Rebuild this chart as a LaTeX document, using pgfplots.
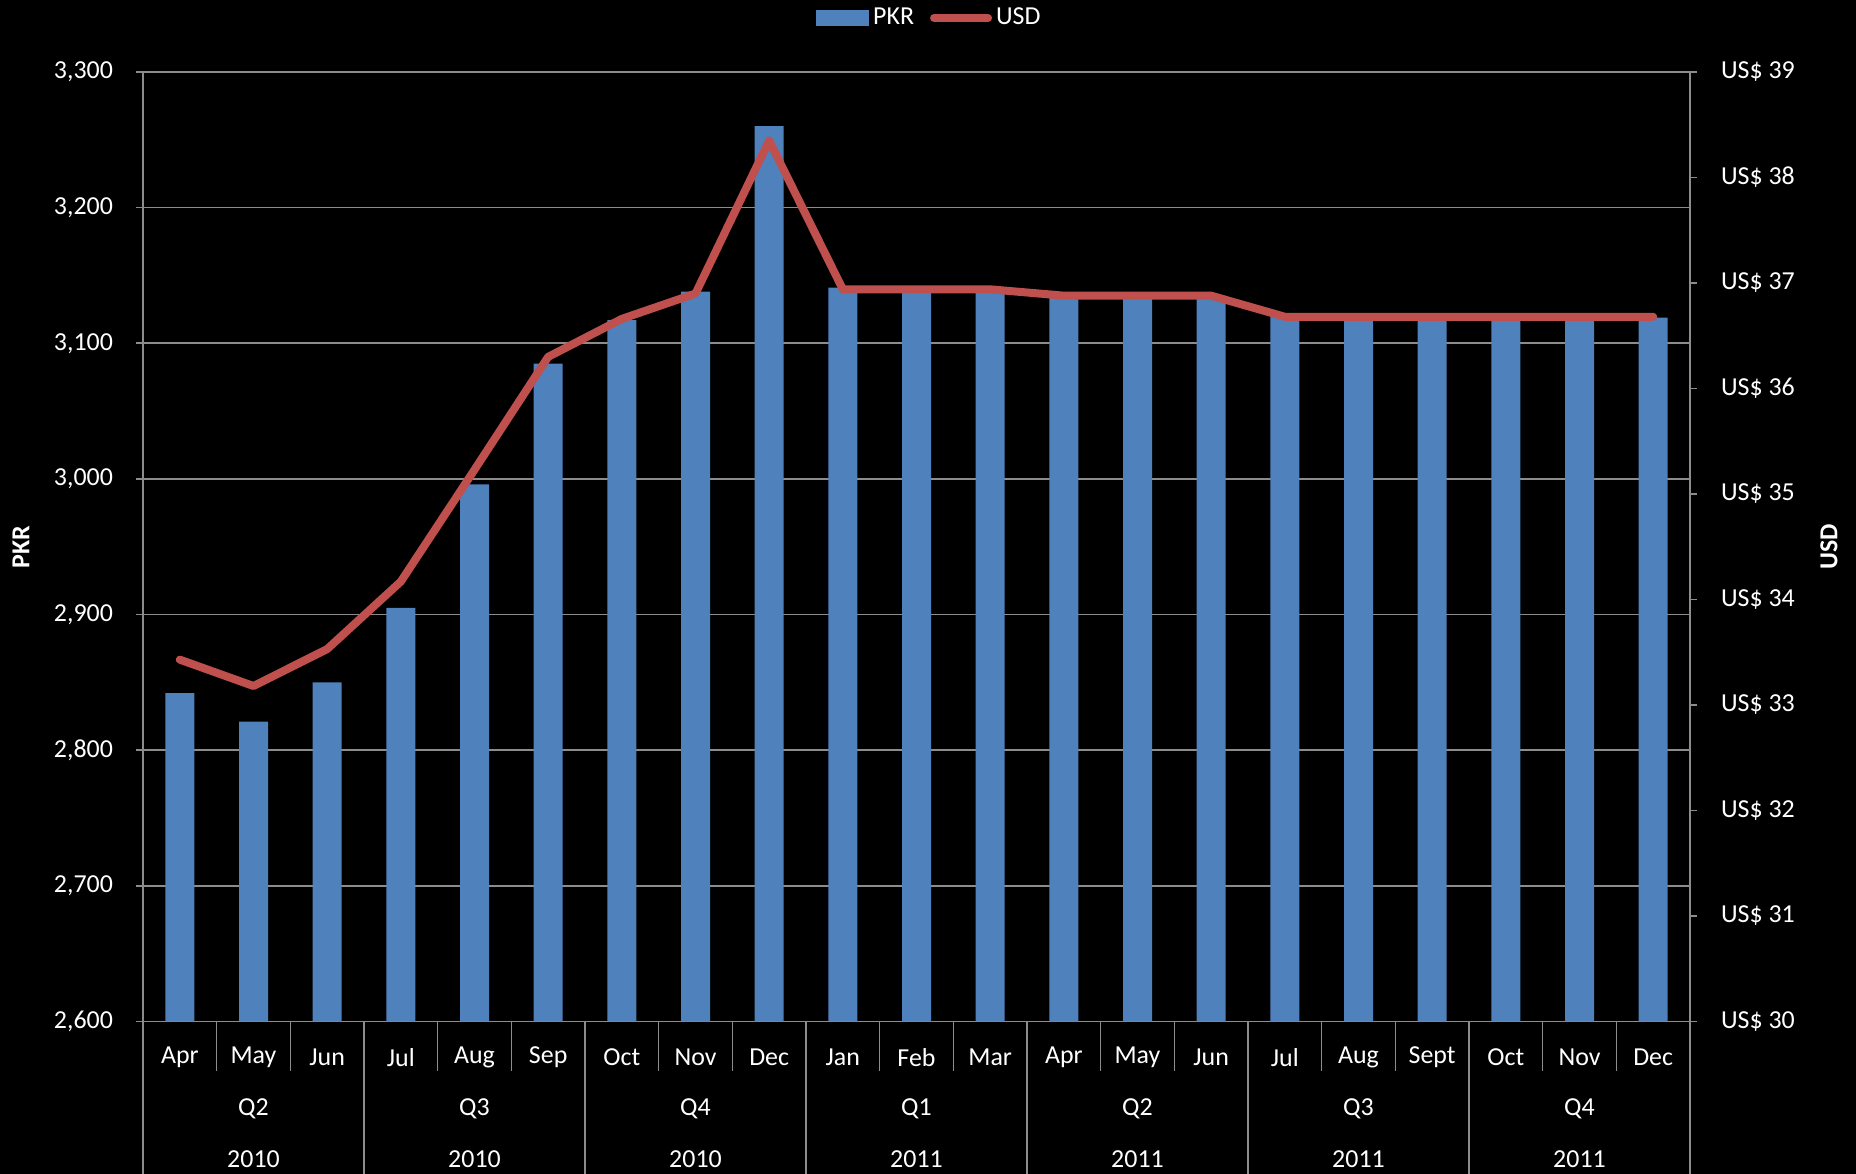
\documentclass[border=0pt]{standalone}
\usepackage{pgfplots}
\pgfplotsset{compat=1.18}
\usepackage{fontspec}
\setmainfont{Carlito}
\definecolor{pkr}{HTML}{4F81BD}
\definecolor{usd}{HTML}{C0504D}
\definecolor{gridc}{HTML}{8C8C8C}
\begin{document}
\begin{tikzpicture}[font=\fontsize{13}{15}\selectfont]
\fill[black] (0,0) rectangle (928bp,587bp);
\pgfplotsset{
  common/.style={
    at={(71.5bp,76.25bp)}, anchor=south west,
    width=773.5bp, height=474.75bp, scale only axis,
    xmin=-0.5, xmax=20.5,
    xtick=\empty,
    /pgf/number format/assume math mode=true,
    tick align=outside,
    major tick length=3.5bp,
    tick style={gridc, line width=0.8bp},
    axis line style={gridc, line width=0.8bp},
    tick label style={white, font=\fontsize{13}{15}\selectfont},
  }
}
\begin{axis}[common,
  ymin=2600, ymax=3300,
  ytick={2600,2700,...,3300},
  axis x line*=bottom, axis y line*=left,
  yticklabel style={xshift=-8bp},
  ymajorgrids, grid style={gridc, line width=0.8bp},
  /pgf/number format/.cd, 1000 sep={,},
]
\addplot[ybar, bar width=14.5bp, fill=pkr, draw=none] coordinates {
(0,2842) (1,2821) (2,2850) (3,2905) (4,2996) (5,3085) (6,3117)
(7,3138) (8,3260) (9,3141) (10,3140) (11,3139) (12,3136) (13,3135)
(14,3135) (15,3120) (16,3119) (17,3119) (18,3119) (19,3119) (20,3119)};
\end{axis}
\begin{axis}[common,
  ymin=30, ymax=39,
  ytick={30,31,...,39},
  axis x line=none, axis y line*=right,
  yticklabel style={xshift=8.5bp},
  yticklabel={US\$~\pgfmathprintnumber{\tick}},
  legend columns=2,
  legend style={at={(0.509,1.0569)}, anchor=center, draw=none, fill=none,
    text=white, font=\fontsize{13}{15}\selectfont,
    /tikz/every even column/.append style={column sep=6bp}},
]
\addlegendimage{legend image code/.code={\fill[pkr] (0bp,-3.75bp) rectangle (26bp,3.75bp);}}
\addlegendentry{PKR}
\addplot[usd, line width=4bp, line join=round, line cap=round,
  legend image code/.code={\draw[usd, line width=4bp, line cap=round] (1bp,0bp) -- (28bp,0bp);}]
 coordinates {
(0,33.43) (1,33.18) (2,33.53) (3,34.17) (4,35.23) (5,36.30) (6,36.66)
(7,36.90) (8,38.35) (9,36.94) (10,36.94) (11,36.94) (12,36.88) (13,36.88)
(14,36.88) (15,36.68) (16,36.68) (17,36.68) (18,36.68) (19,36.68) (20,36.68)};
\addlegendentry{USD}
\end{axis}
% category axis labels
\foreach \m [count=\i from 0] in {Apr,May,Jun,Jul,Aug,Sep,Oct,Nov,Dec,Jan,Feb,Mar,Apr,May,Jun,Jul,Aug,Sept,Oct,Nov,Dec}
  \node[white] at ({(71.5+(\i+0.5)*36.8333)*1bp},58.25bp) {\m};
\foreach \q/\y [count=\i from 0] in {Q2/2010,Q3/2010,Q4/2010,Q1/2011,Q2/2011,Q3/2011,Q4/2011}{
  \node[white] at ({(71.5+(3*\i+1.5)*36.8333)*1bp},32.5bp) {\q};
  \node[white] at ({(71.5+(3*\i+1.5)*36.8333)*1bp},7.5bp) {\y};
}
\foreach \k in {1,2,4,5,7,8,10,11,13,14,16,17,19,20}
  \draw[gridc, line width=0.8bp] ({(71.5+\k*36.8333)*1bp},76.25bp) -- ({(71.5+\k*36.8333)*1bp},51.25bp);
\foreach \k in {0,3,...,21}
  \draw[gridc, line width=0.8bp] ({(71.5+\k*36.8333)*1bp},76.25bp) -- ({(71.5+\k*36.8333)*1bp},0bp);
\node[white, rotate=90, font=\fontsize{13}{15}\selectfont\bfseries] at (10.5bp,313.6bp) {PKR};
\node[white, rotate=90, font=\fontsize{13}{15}\selectfont\bfseries] at (914.5bp,313.6bp) {USD};
\pgfresetboundingbox
\useasboundingbox (0,0) rectangle (928bp,587bp);
\end{tikzpicture}
\end{document}
